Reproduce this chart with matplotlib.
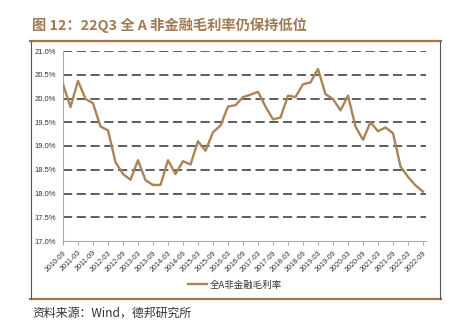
import matplotlib.pyplot as plt
from matplotlib.lines import Line2D

plt.rcParams['font.family'] = ['Noto Sans CJK SC', 'DejaVu Sans']

# 季度序列：2010-09 至 2022-09
quarters = ['2010-09', '2010-12', '2011-03', '2011-06', '2011-09', '2011-12',
            '2012-03', '2012-06', '2012-09', '2012-12', '2013-03', '2013-06',
            '2013-09', '2013-12', '2014-03', '2014-06', '2014-09', '2014-12',
            '2015-03', '2015-06', '2015-09', '2015-12', '2016-03', '2016-06',
            '2016-09', '2016-12', '2017-03', '2017-06', '2017-09', '2017-12',
            '2018-03', '2018-06', '2018-09', '2018-12', '2019-03', '2019-06',
            '2019-09', '2019-12', '2020-03', '2020-06', '2020-09', '2020-12',
            '2021-03', '2021-06', '2021-09', '2021-12', '2022-03', '2022-06',
            '2022-09']
gross_margin = [20.30, 19.82, 20.37, 19.99, 19.90, 19.41, 19.33, 18.66, 18.41,
                18.29, 18.70, 18.28, 18.18, 18.18, 18.70, 18.41, 18.68, 18.61,
                19.10, 18.90, 19.29, 19.43, 19.83, 19.86, 20.03, 20.08, 20.14,
                19.83, 19.56, 19.60, 20.06, 20.03, 20.30, 20.34, 20.62, 20.09,
                19.99, 19.75, 20.06, 19.41, 19.13, 19.50, 19.31, 19.39, 19.27,
                18.57, 18.35, 18.17, 18.04]
y_ticks = [17.0, 17.5, 18.0, 18.5, 19.0, 19.5, 20.0, 20.5, 21.0]
series_name = '全A非金融毛利率'

W, H = 460, 325
brown = '#a98456'
title_color = '#a07a52'

fig = plt.figure(figsize=(W / 100, H / 100), dpi=100)

# 标题与外框
fig.text(32 / W, 1 - 25 / H, '图 12：22Q3 全 A 非金融毛利率仍保持低位',
         fontsize=10.3, fontweight='bold', color=title_color, va='center')
fig.add_artist(Line2D([30 / W, 441 / W], [1 - 40.5 / H, 1 - 40.5 / H],
                      color='#9c7650', lw=1.6))
fig.add_artist(Line2D([30 / W, 441 / W], [1 - 298.5 / H, 1 - 298.5 / H],
                      color='#9c7650', lw=1.6))
fig.add_artist(Line2D([30.5 / W, 30.5 / W], [1 - 40.5 / H, 1 - 298.5 / H],
                      color='#555555', lw=0.8))
fig.add_artist(Line2D([440.5 / W, 440.5 / W], [1 - 40.5 / H, 1 - 298.5 / H],
                      color='#555555', lw=0.8))

ax = fig.add_axes([63 / W, 1 - 241 / H, 363 / W, 190 / H])
x = list(range(len(quarters)))

for v in y_ticks[1:]:
    ax.axhline(v, color='#333333', lw=1.1, linestyle=(0, (6, 3)), zorder=1)

ax.plot(x, gross_margin, color=brown, lw=1.7, zorder=3, label=series_name)

ax.set_xlim(0, 48.4)
ax.set_ylim(17.0, 21.0)
ax.set_yticks(y_ticks)
ax.set_yticklabels([f'{v:.1f}%' for v in y_ticks], fontsize=5.5,
                   family=['Liberation Sans'], color='#333333')
ax.tick_params(axis='y', length=0, pad=5)

ax.set_xticks(x[::2])
ax.set_xticklabels(quarters[::2], rotation=45, ha='right',
                   rotation_mode='anchor', fontsize=5.2,
                   family=['Liberation Sans'], color='#333333')
ax.tick_params(axis='x', length=3, width=0.6, color='#999999', pad=3)

for side in ['top', 'right']:
    ax.spines[side].set_visible(False)
for side in ['left', 'bottom']:
    ax.spines[side].set_color('#aaaaaa')
    ax.spines[side].set_linewidth(0.8)

fig.legend(loc='center', bbox_to_anchor=(235 / W, 1 - 285 / H), frameon=False,
           fontsize=6.8, handlelength=2.1, handletextpad=0.3,
           labelcolor='#333333')

fig.text(32 / W, 1 - 313 / H, '资料来源：Wind，德邦研究所', fontsize=8.6,
         color='#333333', va='center')

fig.savefig('out.png', dpi=100)
